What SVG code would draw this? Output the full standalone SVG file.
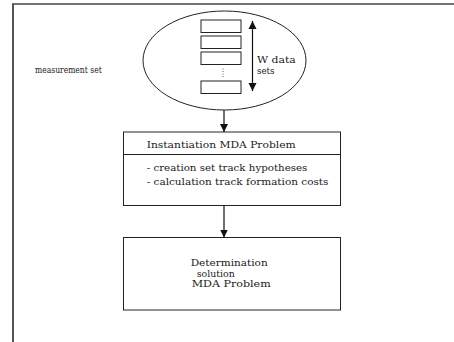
<svg xmlns="http://www.w3.org/2000/svg" width="454" height="342" viewBox="0 0 454 342">
<defs>
<style>
text{font-family:"DejaVu Serif","Liberation Serif",serif;font-size:8.5px;fill:#1a1a1a}
.s{fill:#fff;stroke:#222;stroke-width:1}
.c{stroke:#111;stroke-width:1.2;fill:none}
</style>
<marker id="ah" viewBox="0 0 8 10" refX="8" refY="5" markerWidth="8" markerHeight="10" markerUnits="userSpaceOnUse" orient="auto-start-reverse">
<path d="M0,1 L8,5 L0,9 Z" fill="#111"/>
</marker>
</defs>
<rect width="454" height="342" fill="#fff"/>
<g id="frame">
<line x1="12.5" y1="4" x2="454" y2="4" stroke="#444" stroke-width="1.5"/>
<line x1="13" y1="3.5" x2="13" y2="342" stroke="#555" stroke-width="2"/>
</g>
<g id="measurement-set">
<ellipse class="s" cx="224.5" cy="60.5" rx="81.5" ry="49.5"/>
<rect class="s" x="201" y="20" width="40" height="12.5"/>
<rect class="s" x="201" y="36" width="40" height="12.5"/>
<rect class="s" x="201" y="52" width="40" height="12.5"/>
<line x1="223" y1="68.5" x2="223" y2="77" stroke="#333" stroke-width="0.8" stroke-dasharray="1,1.5"/>
<rect class="s" x="201" y="81" width="40" height="12.5"/>
<line class="c" x1="252.5" y1="21" x2="252.5" y2="91" marker-start="url(#ah)" marker-end="url(#ah)"/>
<text x="257" y="63" textLength="38.7" lengthAdjust="spacingAndGlyphs">W data</text>
<text x="257" y="73.5" textLength="17.5" lengthAdjust="spacingAndGlyphs">sets</text>
<text x="35" y="73" textLength="66.7" lengthAdjust="spacingAndGlyphs">measurement set</text>
</g>
<g id="instantiation">
<rect class="s" x="123.5" y="132" width="217" height="73.5"/>
<line x1="123.5" y1="154.5" x2="340.5" y2="154.5" stroke="#222" stroke-width="1"/>
<text x="146.7" y="148" textLength="149" lengthAdjust="spacingAndGlyphs">Instantiation MDA Problem</text>
<text x="146.7" y="170.5" textLength="160.7" lengthAdjust="spacingAndGlyphs">- creation set track hypotheses</text>
<text x="146.7" y="185" textLength="181.7" lengthAdjust="spacingAndGlyphs">- calculation track formation costs</text>
</g>
<g id="determination">
<rect class="s" x="123.5" y="237.5" width="217" height="72.5"/>
<text x="190.7" y="266" textLength="77" lengthAdjust="spacingAndGlyphs">Determination</text>
<text x="196.7" y="276.7" textLength="38" lengthAdjust="spacingAndGlyphs">solution</text>
<text x="191.7" y="287" textLength="79" lengthAdjust="spacingAndGlyphs">MDA Problem</text>
</g>
<g id="connectors">
<line class="c" x1="224" y1="110" x2="224" y2="132" marker-end="url(#ah)"/>
<line class="c" x1="224" y1="205.5" x2="224" y2="237.5" marker-end="url(#ah)"/>
</g>
</svg>
